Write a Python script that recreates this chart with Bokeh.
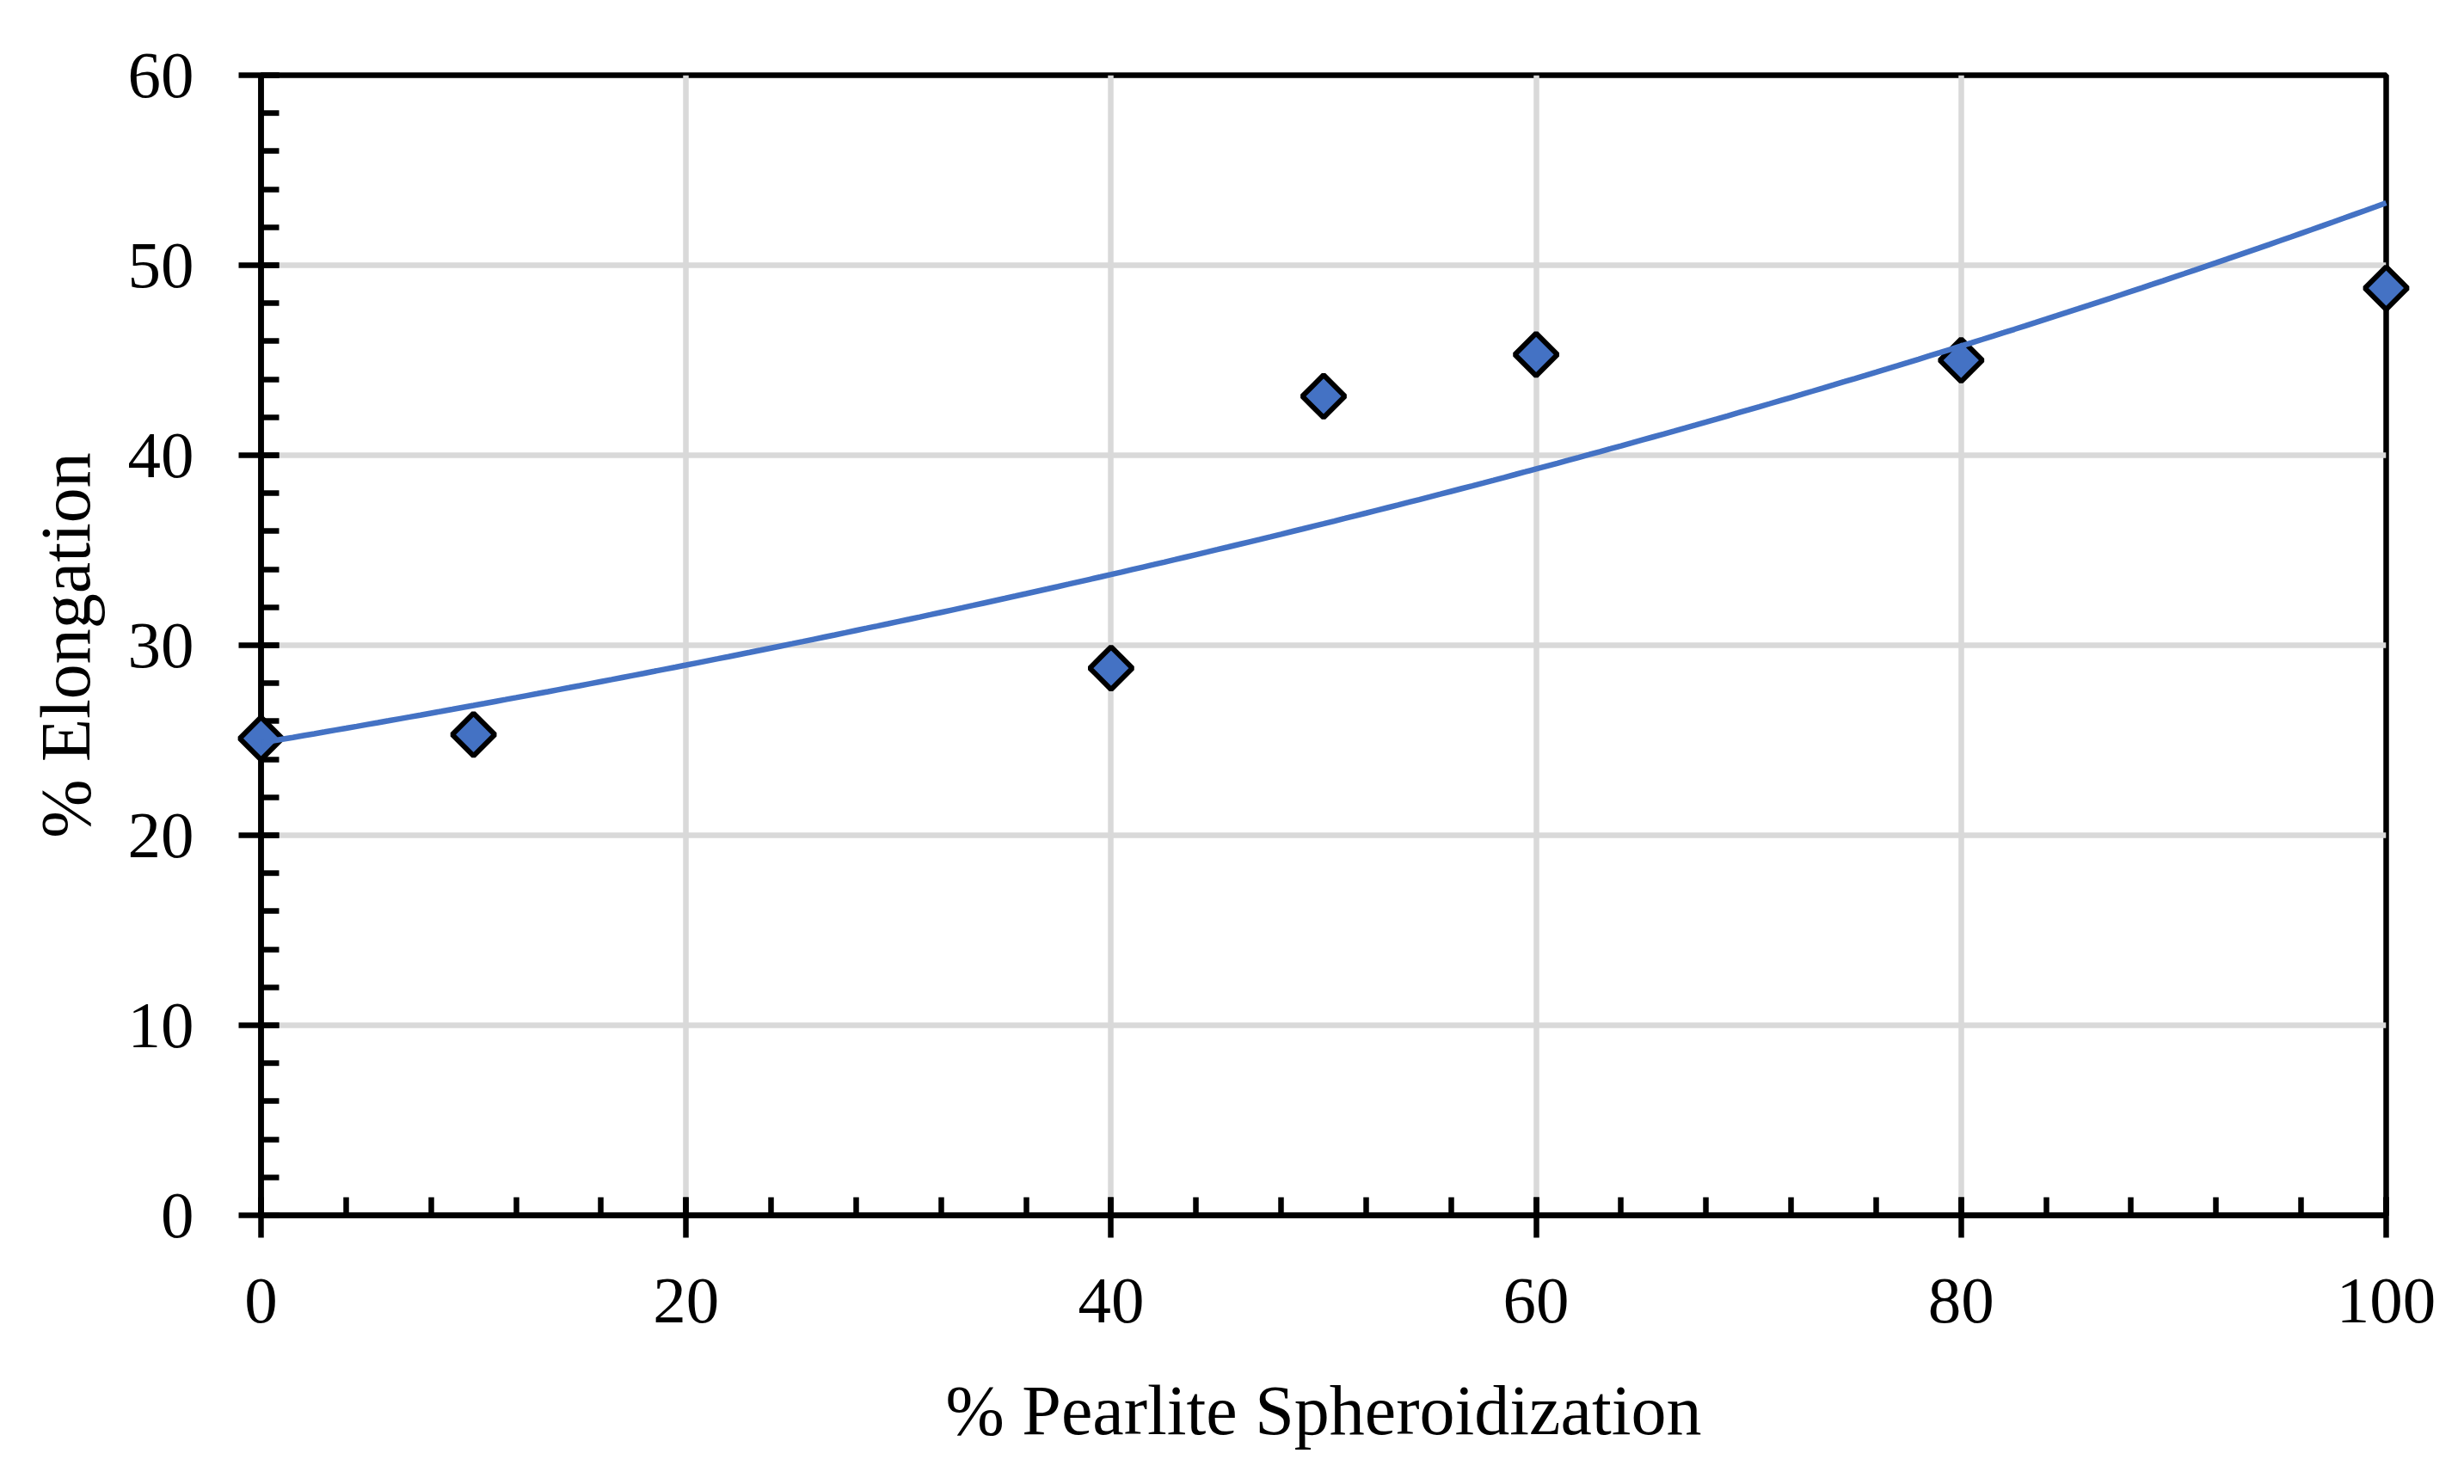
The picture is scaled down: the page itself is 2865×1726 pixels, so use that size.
import numpy as np
from bokeh.plotting import figure
from bokeh.models import Range1d, SingleIntervalTicker, ColumnDataSource
from bokeh.embed import file_html
from bokeh.resources import INLINE

# ---- data ----
spheroidization = [0, 10, 40, 50, 60, 80, 100]
elongation = [25.1, 25.3, 28.8, 43.1, 45.3, 45.0, 48.8]
x_title = "% Pearlite Spheroidization"
y_title = "% Elongation"
x_tick_interval = 20
y_tick_interval = 10

# exponential trendline (least squares on ln y, as a spreadsheet does)
b, ln_a = np.polyfit(spheroidization, np.log(elongation), 1)
trend_x = np.linspace(0, 100, 201)
trend_y = np.exp(ln_a) * np.exp(b * trend_x)

BLUE = "#4472C4"
FONT = "Liberation Serif"
LW = 6.5

p = figure(width=2849, height=1710,
           x_range=Range1d(0, 100), y_range=Range1d(0, 60),
           output_backend="svg", toolbar_location=None,
           min_border_left=303, min_border_right=75,
           min_border_top=87, min_border_bottom=297)
p.background_fill_color = "white"
p.border_fill_color = "white"
p.outline_line_color = "black"
p.outline_line_width = LW

p.xaxis.ticker = SingleIntervalTicker(interval=x_tick_interval, num_minor_ticks=5)
p.yaxis.ticker = SingleIntervalTicker(interval=y_tick_interval, num_minor_ticks=5)

p.xgrid.grid_line_color = "#D9D9D9"
p.ygrid.grid_line_color = "#D9D9D9"
p.xgrid.grid_line_width = LW
p.ygrid.grid_line_width = LW

for ax in (p.xaxis[0], p.yaxis[0]):
    ax.axis_line_color = "black"
    ax.axis_line_width = LW
    ax.major_tick_line_color = "black"
    ax.minor_tick_line_color = "black"
    ax.major_tick_line_width = LW
    ax.minor_tick_line_width = LW
    ax.major_tick_in = 21
    ax.major_tick_out = 26
    ax.minor_tick_in = 21
    ax.minor_tick_out = 0
    ax.major_label_text_font = FONT
    ax.major_label_text_font_size = "77px"
    ax.major_label_text_color = "black"
    ax.axis_label_text_font = FONT
    ax.axis_label_text_font_size = "82px"
    ax.axis_label_text_font_style = "normal"
    ax.axis_label_text_color = "black"

p.xaxis.axis_label = x_title
p.yaxis.axis_label = y_title
p.xaxis.major_label_standoff = 48
p.xaxis.axis_label_standoff = 54
p.yaxis.major_label_standoff = 52
p.yaxis.axis_label_standoff = 24

src = ColumnDataSource(dict(x=spheroidization, y=elongation))
pts = p.scatter("x", "y", source=src, marker="square", angle=np.pi / 4,
                size=35, fill_color=BLUE, line_color="black", line_width=6)
pts.level = "overlay"

ln = p.line(trend_x, trend_y, line_color=BLUE, line_width=6.5)
ln.level = "overlay"

open("out.html", "w").write(file_html(p, INLINE))
